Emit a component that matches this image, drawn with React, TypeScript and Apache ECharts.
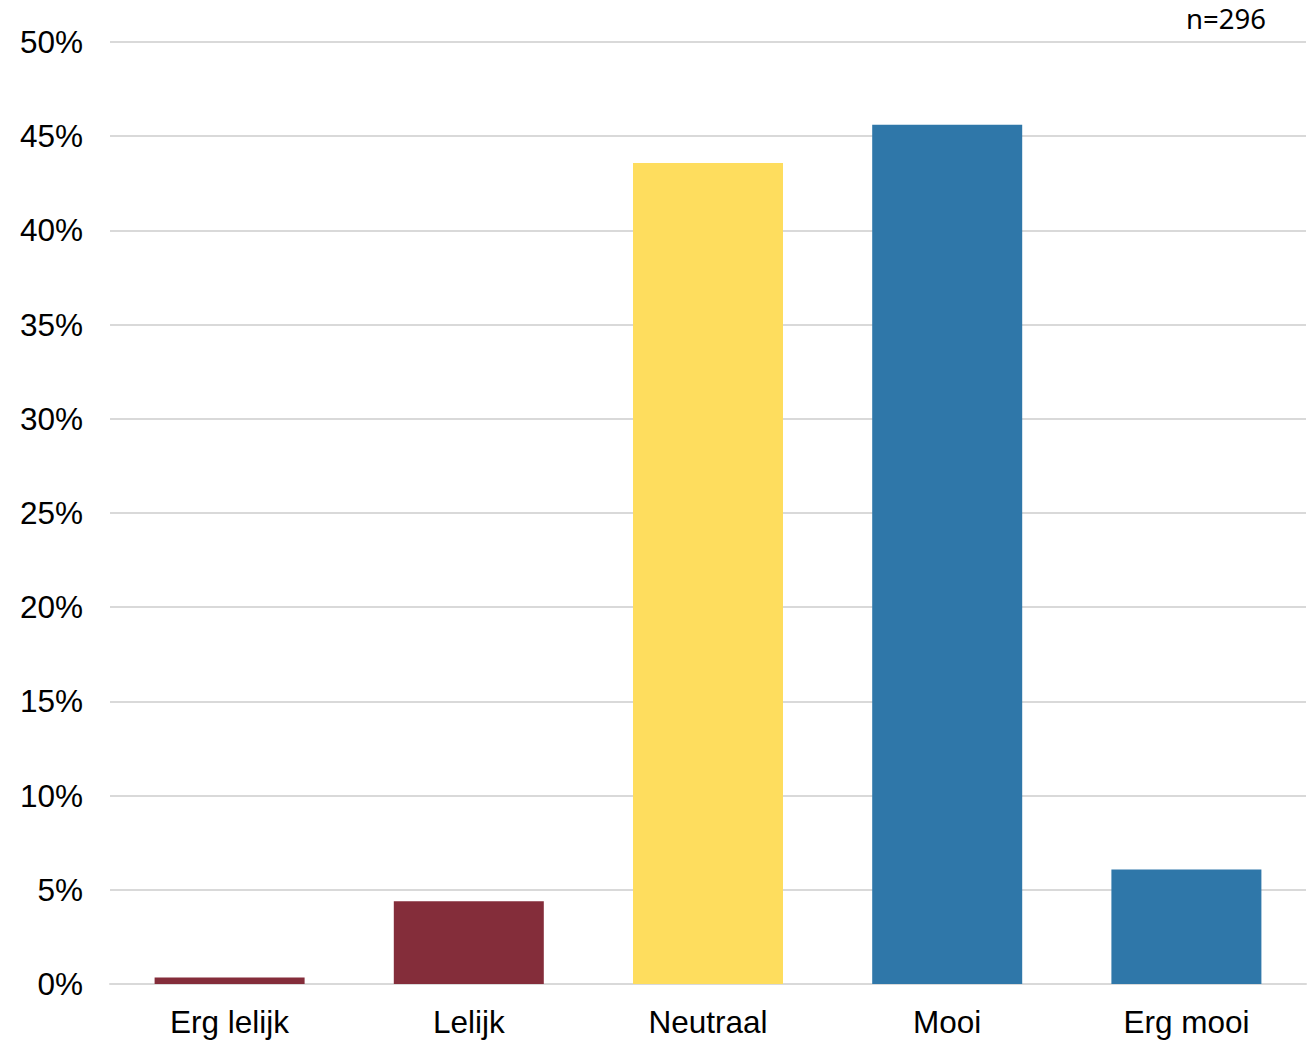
import React, { useEffect, useRef } from "react";
import * as echarts from "echarts";

const categories = ["Erg lelijk", "Lelijk", "Neutraal", "Mooi", "Erg mooi"];
const values = [0.34, 4.39, 43.58, 45.61, 6.08];
const barColors = ["#842D3A", "#842D3A", "#FEDD5E", "#2F77A9", "#2F77A9"];
const yTicks = [0, 5, 10, 15, 20, 25, 30, 35, 40, 45, 50];
const sampleLabel = "n=296";

export default function App() {
  const ref = useRef<HTMLDivElement>(null);
  useEffect(() => {
    const chart = echarts.init(ref.current!, null, { renderer: "svg" });
    chart.setOption({
      animation: false,
      backgroundColor: "#ffffff",
      grid: { left: 110, right: 8, top: 42, bottom: 57, containLabel: false },
      xAxis: {
        type: "category",
        data: categories,
        axisLine: { show: true, lineStyle: { color: "#d9d9d9", width: 2 } },
        axisTick: { show: false },
        axisLabel: {
          color: "#000",
          fontFamily: "Liberation Sans, Arial, sans-serif",
          fontSize: 31.5,
          margin: 22,
        },
      },
      yAxis: {
        type: "value",
        min: yTicks[0],
        max: yTicks[yTicks.length - 1],
        interval: 5,
        axisLine: { show: false },
        axisTick: { show: false },
        splitLine: { lineStyle: { color: "#d9d9d9", width: 2 } },
        axisLabel: {
          color: "#000",
          fontFamily: "Liberation Sans, Arial, sans-serif",
          fontSize: 31.5,
          margin: 27,
          formatter: (v: number) => `${v}%`,
        },
      },
      series: [
        {
          type: "bar",
          barWidth: 150,
          data: values.map((v, i) => ({ value: v, itemStyle: { color: barColors[i] } })),
        },
      ],
      graphic: [
        {
          type: "text",
          right: 48,
          top: 4,
          style: {
            text: sampleLabel,
            fill: "#000",
            font: "27.5px 'Noto Sans', 'Open Sans', sans-serif",
          },
        },
      ],
    });
    return () => chart.dispose();
  }, []);
  return (
    <div
      ref={ref}
      style={{ position: "absolute", left: 0, top: 0, width: 1314, height: 1041 }}
    />
  );
}
